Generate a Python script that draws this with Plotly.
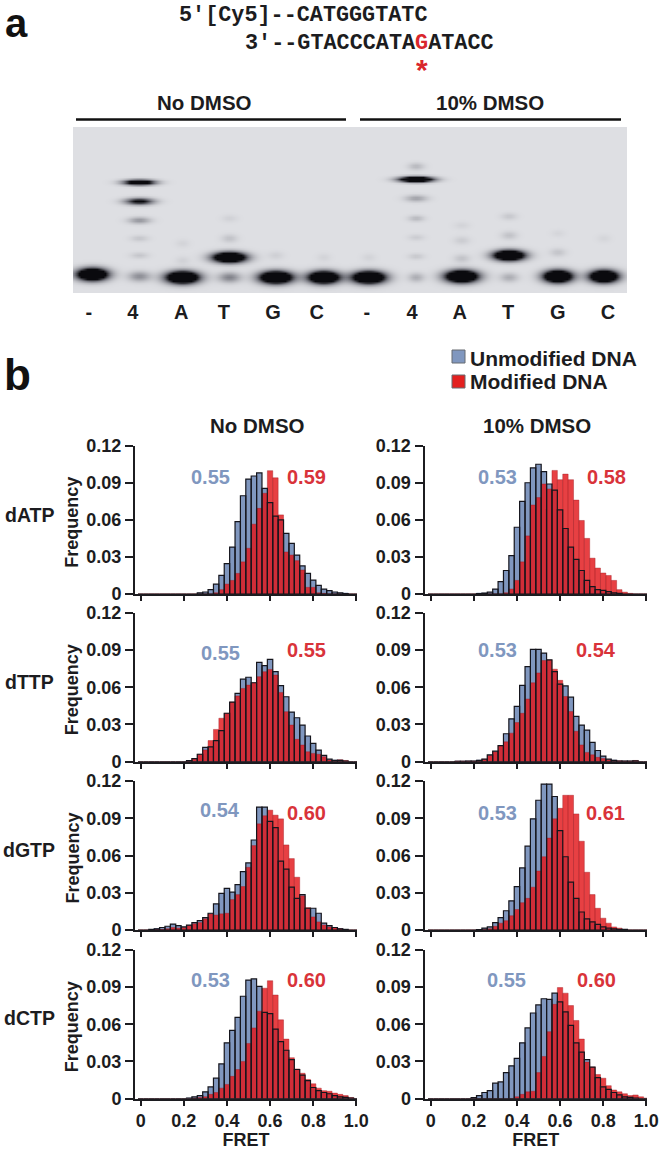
import numpy as np
import plotly.graph_objects as go

W, H = 662, 1150
FONT = "Liberation Sans"
INK = "#1c1c20"
BLUE = "#8097BF"
RED_TXT = "#D9333A"

# ---------- panel b data ----------
bin_centers = [round(k * 0.025, 3) for k in range(41)]

def pad(start, vals):
    out = [0.0] * start + list(vals)
    return out + [0.0] * (41 - len(out))

datp_none_unmod = pad(10, [0, .001, .0016, .0035, .008, .015, .0245, .038, .0585, .0795, .093, .0955, .098, .0855, .074, .063, .06, .049, .041, .0315, .0227, .0167, .0113, .007, .004, .0027, .0016, .001, .0003])
datp_none_mod = pad(14, [.001, .0035, .008, .011, .0167, .026, .037, .0565, .0693, .0815, .0998, .094, .064, .034, .0315, .027, .0194, .0054, .0054, .001, .0005])
datp_dmso_unmod = pad(9, [.0003, .0008, .0015, .004, .010, .019, .031, .054, .075, .09, .102, .105, .099, .089, .084, .068, .053, .038, .028, .019, .011, .006, .0035, .003, .002, .001, .0005])
datp_dmso_mod = pad(14, [.001, .004, .011, .026, .047, .072, .078, .089, .085, .100, .0925, .097, .0925, .076, .0595, .045, .029, .021, .017, .015, .011, .0035, .0015, .0005])

dttp_none_unmod = pad(9, [.0008, .0025, .006, .0115, .012, .017, .025, .039, .048, .055, .0665, .068, .0636, .08, .0773, .0824, .0725, .0612, .0523, .040, .0354, .0295, .0207, .0148, .0094, .0051, .002, .001, .001, .0005])
dttp_none_mod = pad(9, [.0008, .0025, .006, .0095, .017, .026, .035, .039, .048, .053, .059, .0617, .0636, .0685, .0725, .0743, .0698, .0558, .0403, .0295, .018, .0134, .008, .0067, .006, .004, .0013, .001, .0015, .001])
dttp_dmso_unmod = pad(5, [.0003, .0003, .0005, .0005, .001, .002, .0055, .0085, .013, .0225, .0345, .0445, .0615, .0765, .0905, .0905, .0875, .082, .0725, .0625, .061, .052, .0365, .0295, .0255, .0155, .009, .0045, .002, .001, .0005, .0005, .0005, .0007])
dttp_dmso_mod = pad(5, [.0005, .0005, .0005, .0005, .001, .002, .005, .008, .013, .016, .023, .0315, .039, .0505, .0635, .0715, .0815, .082, .0745, .0655, .0525, .0405, .0245, .0135, .0075, .0055, .0035, .0025, .0015, .001, .0007, .0005, .0005, .001])

dgtp_none_unmod = pad(2, [.0005, .001, .002, .003, .0048, .0035, .0025, .004, .006, .0075, .01, .0135, .021, .0295, .0335, .0305, .0365, .047, .054, .0725, .099, .099, .0875, .0825, .0555, .049, .0345, .0255, .0285, .0175, .0175, .0135, .0055, .0035, .002, .001, .0005])
dgtp_none_mod = pad(3, [.0005, .0005, .001, .002, .0015, .002, .0035, .005, .006, .009, .013, .012, .013, .0135, .0245, .0285, .035, .0505, .068, .0855, .092, .0965, .0925, .0895, .0685, .0575, .0425, .0275, .018, .0105, .0065, .004, .0025, .002, .001])
dgtp_dmso_unmod = pad(9, [.0003, .0015, .0025, .006, .010, .0155, .0235, .035, .05, .0675, .0895, .1045, .1175, .1175, .1075, .08, .059, .0385, .0255, .0145, .009, .0065, .0045, .0025, .0015, .001, .0005, .0005])
dgtp_dmso_mod = pad(10, [.0005, .001, .003, .0055, .0075, .0115, .0165, .022, .0255, .0345, .0475, .059, .074, .0895, .098, .1085, .1085, .0935, .0715, .0465, .0285, .0175, .0095, .0055, .0025, .0015])

dctp_none_unmod = pad(9, [.0005, .0015, .0025, .0055, .0095, .0165, .028, .045, .055, .0655, .0825, .0955, .0965, .0905, .0695, .0685, .056, .046, .039, .0315, .0235, .019, .0145, .009, .0065, .005, .004, .0025, .0015, .001, .0005])
dctp_none_mod = pad(10, [.0005, .001, .0015, .0035, .005, .0085, .0115, .018, .0235, .03, .0445, .057, .0705, .089, .095, .0835, .0635, .048, .033, .024, .0205, .0155, .012, .0085, .0065, .006, .0045, .0035, .0025, .001])
dctp_dmso_unmod = pad(8, [.0008, .0025, .005, .0065, .0125, .0135, .021, .0265, .0325, .045, .057, .069, .0755, .0805, .08, .085, .078, .07, .059, .045, .0375, .0315, .0255, .017, .0095, .0075, .005, .003, .0015, .001, .0005])
dctp_dmso_mod = pad(15, [.0002, .0015, .0035, .0055, .006, .021, .034, .054, .076, .0895, .085, .075, .063, .048, .0295, .0255, .0195, .0165, .0105, .007, .0055, .004, .0025, .003, .0015, .0005])

row_names = ["dATP", "dTTP", "dGTP", "dCTP"]
col_names = ["No DMSO", "10% DMSO"]
unmod = [[datp_none_unmod, datp_dmso_unmod], [dttp_none_unmod, dttp_dmso_unmod],
         [dgtp_none_unmod, dgtp_dmso_unmod], [dctp_none_unmod, dctp_dmso_unmod]]
mod = [[datp_none_mod, datp_dmso_mod], [dttp_none_mod, dttp_dmso_mod],
       [dgtp_none_mod, dgtp_dmso_mod], [dctp_none_mod, dctp_dmso_mod]]
mean_unmod = [["0.55", "0.53"], ["0.55", "0.53"], ["0.54", "0.53"], ["0.53", "0.55"]]
mean_mod = [["0.59", "0.58"], ["0.55", "0.54"], ["0.60", "0.61"], ["0.60", "0.60"]]
y_ticks = [0, 0.03, 0.06, 0.09, 0.12]
y_tick_text = ["0", "0.03", "0.06", "0.09", "0.12"]
x_ticks = [0, 0.2, 0.4, 0.6, 0.8, 1.0]
x_tick_text = ["0", "0.2", "0.4", "0.6", "0.8", "1.0"]

# ---------- panel a data ----------
lane_labels = ["-", "4", "A", "T", "G", "C", "-", "4", "A", "T", "G", "C"]
lane_label_pos = [-0.07, 0.88, 1.92, 2.84, 3.9, 4.84, 5.92, 6.89, 7.92, 8.96, 10.03, 11.11]
# lane, migration, relative width, relative height, intensity
gel_lane = [0, 1, 1, 1, 1, 1, 1, 2, 2, 2, 3, 3, 3, 3, 4, 4, 5, 5, 6, 6,
            7, 7, 7, 7, 7, 7, 7, 8, 8, 8, 8, 9, 9, 9, 9, 10, 10, 10, 11, 11]
gel_lane = [v + d for v, d in zip(gel_lane, [0, .01, .01, .01, .01, .01, .01, -.06, -.06, -.06, -.05, -.05, -.05, -.05, -.05, -.05, -.02, -.02, -.05, -.05,
                                             -.03, -.03, -.03, -.03, -.03, -.03, -.03, -.05, -.05, -.05, -.05, -.03, -.03, -.03, -.03, .02, .02, .02, .01, .01])]
gel_migration = [19, 111, 92, 73, 55, 38, 17, 16, 50, 33, 36, 16, 55, 75, 16, 38, 16, 36, 16, 36,
                 114, 127, 95, 75, 56, 37, 16, 17, 35, 53, 68, 38, 16, 58, 77, 17, 41, 60, 17, 55]
gel_width = [15, 15, 14, 11, 9, 9, 11, 16, 7, 7, 16, 11, 8, 8, 16, 8, 15, 7, 16, 7,
             16, 8, 11, 8, 8, 8, 8, 16, 8, 8, 8, 15, 9, 8, 8, 14, 8, 7, 14, 7]
gel_height = [6, 2.6, 3.2, 3.2, 3, 3, 5, 6, 4, 4, 5, 5, 4, 3.5, 6, 4, 6, 4, 6, 4,
              2.6, 3.5, 3.2, 3, 3, 3, 4.5, 6, 4, 4, 3.5, 5, 4.5, 4, 3.5, 6, 4, 3.5, 6, 4]
gel_intensity = [2.2, 1.7, 1.1, .38, .13, .13, .42, 2.2, .06, .07, 2.2, .48, .15, .07, 2.2, .08, 2.2, .06, 2.2, .06,
                 2.2, .2, .32, .2, .1, .12, .26, 2.2, .15, .1, .06, 2.2, .26, .15, .12, 2.2, .14, .05, 2.2, .05]


def px(x):
    return x / W


def py(y):
    return 1 - y / H


fig = go.Figure()
annotations = []
shapes = []


def note(x, y, text, size, color=INK, bold=True, family=FONT, angle=0):
    annotations.append(dict(xref="paper", yref="paper", x=px(x), y=py(y), text=text, showarrow=False,
                            xanchor="center", yanchor="middle", textangle=angle,
                            font=dict(family=family, size=size, color=color, weight=700 if bold else 400)))


# ---------- gel ----------
lane_px = 46.45
gx = np.arange(-0.41, 11.53, 2 / lane_px)
gy = np.arange(0, 166.5, 2.0)
XX, YY = np.meshgrid(gx, gy)
Z = np.zeros_like(XX)
for la, mi, wi, he, it in zip(gel_lane, gel_migration, gel_width, gel_height, gel_intensity):
    Z += it * np.exp(-(((XX - la) * lane_px / wi) ** 2 + ((YY - mi) / he) ** 2))
Z = np.round(np.clip(Z, 0, 1), 3)
fig.add_trace(go.Heatmap(x=np.round(gx, 3), y=gy, z=Z, zmin=0, zmax=1, showscale=False, zsmooth="best",
                         hoverinfo="skip", xaxis="x9", yaxis="y9",
                         colorscale=[[0, "#dedfe3"], [0.5, "#7d7e86"], [1, "#0a0a0e"]]))
layout_axes = {
    "xaxis9": dict(domain=[px(73), px(627)], range=[-0.41, 11.52], anchor="y9", showgrid=False, zeroline=False,
                   showline=False, tickmode="array", tickvals=lane_label_pos, ticktext=lane_labels, automargin=False,
                   ticks="outside", ticklen=1, tickcolor="rgba(0,0,0,0)",
                   tickfont=dict(family=FONT, size=20, color=INK, weight=700)),
    "yaxis9": dict(domain=[py(293), py(127)], range=[0, 166], anchor="x9", showgrid=False, zeroline=False,
                   showline=False, showticklabels=False, ticks="", automargin=False),
}

# ---------- histograms ----------
col_x = [(135, 357, 140.7, 356.3), (424.5, 647, 430.7, 646.3)]
row_y = [(445.7, 594), (612.7, 761.7), (781, 930), (949.7, 1098.7)]
note_unmod_xy = [[(210, 477), (497, 477)], [(220, 653), (497, 650)], [(220, 810), (497, 813)], [(210, 980), (506, 980)]]
note_mod_xy = [[(306, 477), (606, 477)], [(306, 650), (596, 650)], [(306, 813), (605, 813)], [(306, 980), (596, 980)]]
row_label_y = [515, 682, 850, 1018]
axis_n = 1
for r in range(4):
    for c in range(2):
        xa = "x" if axis_n == 1 else f"x{axis_n}"
        ya = "y" if axis_n == 1 else f"y{axis_n}"
        xk = "xaxis" if axis_n == 1 else f"xaxis{axis_n}"
        yk = "yaxis" if axis_n == 1 else f"yaxis{axis_n}"
        common = dict(x=bin_centers, width=0.025, xaxis=xa, yaxis=ya, showlegend=False, hoverinfo="skip")
        fig.add_trace(go.Bar(y=unmod[r][c], marker=dict(color=BLUE, line=dict(width=0)), **common))
        fig.add_trace(go.Bar(y=mod[r][c], marker=dict(color="rgba(226,22,26,0.82)", line=dict(width=0.7, color="rgba(160,30,35,0.6)")), **common))
        fig.add_trace(go.Bar(y=unmod[r][c], marker=dict(color="rgba(0,0,0,0)", line=dict(width=1.2, color="#15151c")), **common))
        x0, x1, t0, t1 = col_x[c]
        u = t1 - t0
        top, bot = row_y[r]
        layout_axes[xk] = dict(domain=[px(x0), px(x1)], range=[-(t0 - x0) / u, 1 + (x1 - t1) / u], anchor=ya,
                               showgrid=False, zeroline=False, showline=True, linecolor=INK, linewidth=2,
                               ticks="outside", ticklen=5, tickwidth=2, tickcolor=INK, automargin=False,
                               tickmode="array", tickvals=x_ticks, ticktext=x_tick_text,
                               showticklabels=(r == 3),
                               tickfont=dict(family=FONT, size=18, color=INK, weight=700))
        if r == 3:
            layout_axes[xk]["title"] = dict(text="FRET", standoff=0, font=dict(family=FONT, size=18, color=INK, weight=700))
        layout_axes[yk] = dict(domain=[py(bot), py(top)], range=[0, 0.12], anchor=xa,
                               showgrid=False, zeroline=False, showline=True, linecolor=INK, linewidth=2,
                               ticks="outside", ticklen=8, tickwidth=2, tickcolor=INK, automargin=False,
                               tickmode="array", tickvals=y_ticks, ticktext=y_tick_text,
                               tickfont=dict(family=FONT, size=18, color=INK, weight=700))
        nx, ny = note_unmod_xy[r][c]
        note(nx, ny, mean_unmod[r][c], 20, BLUE)
        nx, ny = note_mod_xy[r][c]
        note(nx, ny, mean_mod[r][c], 20, RED_TXT)
        axis_n += 1
    note(29, row_label_y[r], row_names[r], 19.5)
    note(72, (row_y[r][0] + row_y[r][1]) / 2 + 3, "Frequency", 18, angle=-90)

# ---------- text ----------
note(16, 23, "a", 40, "#111111")
note(17, 374, "b", 44, "#111111")
MONO = "Liberation Mono"
annotations.append(dict(xref="paper", yref="paper", x=px(177), y=py(16), xanchor="left", yanchor="middle", showarrow=False,
                        text="5'[Cy5]--CATGGGTATC", font=dict(family=MONO, size=21.8, color=INK, weight=700)))
annotations.append(dict(xref="paper", yref="paper", x=px(243), y=py(43), xanchor="left", yanchor="middle", showarrow=False,
                        text="3'--GTACCCATA<span style='color:#D9262C'>G</span>ATACC",
                        font=dict(family=MONO, size=21.8, color=INK, weight=700)))
note(422, 70, "*", 30, "#D9262C")
note(205, 102, "No DMSO", 20.5)
note(490, 102, "10% DMSO", 20.5)
note(257, 425, col_names[0], 20.5)
note(537, 425, col_names[1], 20.5)
for x0, x1 in ((76, 346), (360, 621)):
    shapes.append(dict(type="line", xref="paper", yref="paper", x0=px(x0), x1=px(x1), y0=py(119.5), y1=py(119.5),
                       line=dict(color="#111111", width=2.5)))
# legend key
for (y0, y1, col, lab, ty) in ((350, 363, BLUE, "Unmodified DNA", 358), (375, 388, "#E3201F", "Modified DNA", 382)):
    shapes.append(dict(type="rect", xref="paper", yref="paper", x0=px(452), x1=px(465), y0=py(y1), y1=py(y0),
                       fillcolor=col, line=dict(color="#666a70", width=1)))
    annotations.append(dict(xref="paper", yref="paper", x=px(468), y=py(ty), xanchor="left", yanchor="middle", showarrow=False,
                            text=lab, font=dict(family=FONT, size=21, color=INK, weight=700)))

fig.update_layout(width=W, height=H, margin=dict(l=0, r=0, t=0, b=0, pad=0), paper_bgcolor="white",
                  plot_bgcolor="rgba(0,0,0,0)", barmode="overlay", showlegend=False, autosize=False,
                  annotations=annotations, shapes=shapes, **layout_axes)
fig.write_html("out.html", config={"displayModeBar": False, "responsive": False},
               default_width=f"{W}px", default_height=f"{H}px",
               post_script="document.body.style.margin='0';document.body.style.overflow='hidden';")
